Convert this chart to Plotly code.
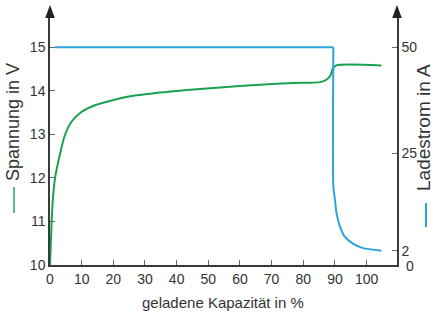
import plotly.graph_objects as go

# Data
cap_v = [0, 0.3, 0.75, 1.6, 3.2, 4.7, 6.8, 10, 14.2, 19.5, 25.8, 36.3, 45.3, 55.8,
         66.3, 76.8, 85.3, 87.4, 88.6, 89.3, 90.3, 104.7]
voltage = [10.0, 10.57, 11.34, 12.0, 12.56, 12.98, 13.29, 13.52, 13.67, 13.78, 13.88,
           13.97, 14.03, 14.09, 14.14, 14.18, 14.20, 14.26, 14.36, 14.51, 14.58, 14.58]

cap_i_flat = [1.5, 89.5]
current_flat = [50, 50]
cap_i_decay = [89.5, 89.5, 90.0, 90.5, 91.6, 93.1, 95.8, 98.9, 104.7]
current_decay = [50, 17.1, 14.0, 10.8, 7.7, 5.3, 3.6, 2.6, 2.0]

x_ticks = [0, 10, 20, 30, 40, 50, 60, 70, 80, 90, 100]
v_ticks = [10, 11, 12, 13, 14, 15]
i_ticks = [2, 25, 50]

GREEN = "#1aa150"
BLUE = "#2ba4de"
AXIS = "#3a3a3a"
TXT = "#333333"
FONT = "Liberation Sans Narrow, Arial Narrow, Liberation Sans, Arial, sans-serif"
TFONT = "Liberation Sans, Arial, sans-serif"

fig = go.Figure()
fig.add_trace(go.Scatter(x=cap_i_flat, y=current_flat, yaxis="y2", mode="lines",
                         line=dict(color=BLUE, width=2), hoverinfo="skip"))
fig.add_trace(go.Scatter(x=cap_i_decay, y=current_decay, yaxis="y2", mode="lines",
                         line=dict(color=BLUE, width=2, shape="spline", smoothing=0.6),
                         hoverinfo="skip"))
fig.add_trace(go.Scatter(x=cap_v, y=voltage, mode="lines",
                         line=dict(color=GREEN, width=2, shape="spline", smoothing=0.8),
                         hoverinfo="skip"))

W, H = 434, 314
L, R, T, B = 50, 37, 18, 49
pw = W - L - R
ph = H - T - B

def px_x(px):
    return (px - L) / pw

def px_y(py):
    return (H - B - py) / ph

axis_common = dict(showgrid=False, zeroline=False, showline=True, linecolor=AXIS,
                   linewidth=1.5, ticks="inside", ticklen=5, tickcolor="#666",
                   tickwidth=1, tickfont=dict(family=FONT, size=14, color=TXT))

fig.update_layout(
    width=W, height=H,
    margin=dict(l=L, r=R, t=T, b=B),
    plot_bgcolor="white", paper_bgcolor="white",
    showlegend=False,
    xaxis=dict(range=[0, 109.6], tickvals=x_ticks, **axis_common),
    yaxis=dict(range=[10, 15.673], tickvals=v_ticks, **axis_common),
    yaxis2=dict(range=[-1.375, 56.91], tickvals=i_ticks, overlaying="y", side="right",
                **axis_common),
    shapes=[
        dict(type="path", xref="paper", yref="paper", line=dict(width=0),
             fillcolor="#222",
             path=f"M {-4.8/pw},1 L 0,{1+13/ph} L {4.8/pw},1 Z"),
        dict(type="path", xref="paper", yref="paper", line=dict(width=0),
             fillcolor="#222",
             path=f"M {1-4.8/pw},1 L 1,{1+13/ph} L {1+4.8/pw},1 Z"),
        # legend-like dashes in front of the axis titles
        dict(type="line", xref="paper", yref="paper", x0=px_x(14), x1=px_x(14),
             y0=px_y(187), y1=px_y(213), line=dict(color="#5cc08a", width=2)),
        dict(type="line", xref="paper", yref="paper", x0=px_x(426), x1=px_x(426),
             y0=px_y(203), y1=px_y(227), line=dict(color=BLUE, width=2)),
    ],
    annotations=[
        dict(text="geladene Kapazität in %", xref="paper", yref="paper",
             x=px_x(222.5), y=px_y(302), showarrow=False, xanchor="center", yanchor="middle",
             font=dict(family=TFONT, size=15, color=TXT)),
        dict(text="Spannung in V", xref="paper",
             yref="paper", x=px_x(13), y=px_y(122), textangle=-90, showarrow=False,
             xanchor="center", yanchor="middle",
             font=dict(family=TFONT, size=18, color=TXT)),
        dict(text="Ladestrom in A", xref="paper",
             yref="paper", x=px_x(423), y=px_y(128), textangle=-90, showarrow=False,
             xanchor="center", yanchor="middle",
             font=dict(family=TFONT, size=19, color=TXT)),
        dict(text="0", xref="paper", yref="paper", x=px_x(404), y=px_y(266),
             showarrow=False, xanchor="left", yanchor="middle",
             font=dict(family=FONT, size=14, color=TXT)),
    ],
)

fig.write_html("out.html", config={"displayModeBar": False},
               post_script="document.body.style.margin='0px';")
